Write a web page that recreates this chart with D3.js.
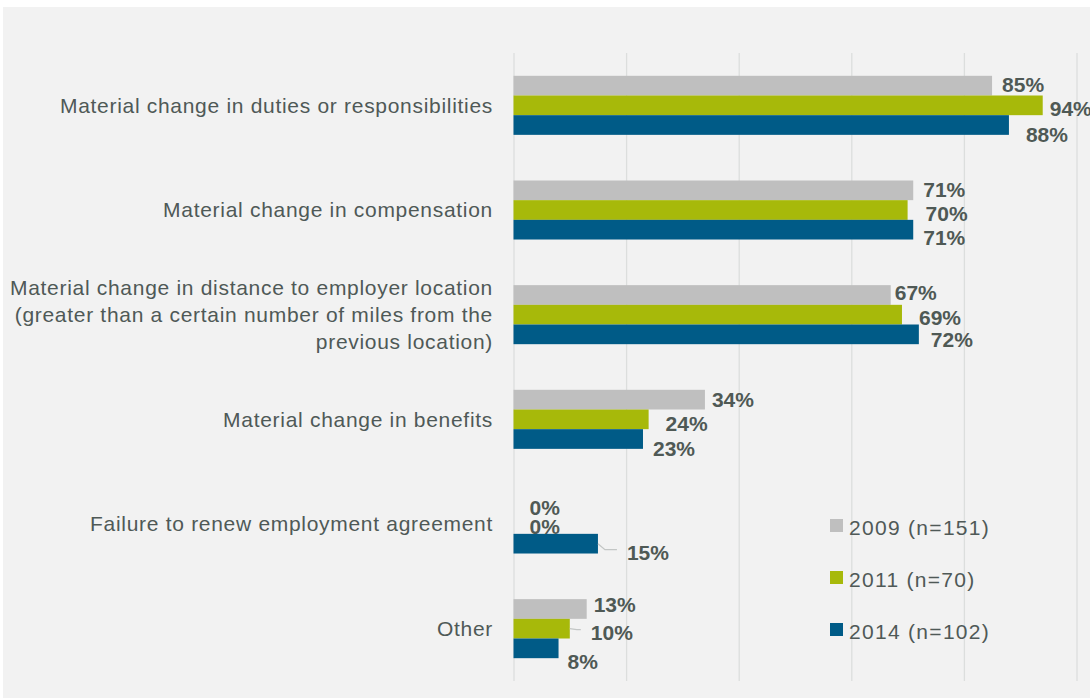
<!DOCTYPE html>
<html>
<head>
<meta charset="utf-8">
<script src="https://cdn.jsdelivr.net/npm/d3@7"></script>
<style>
  html, body { margin: 0; padding: 0; background: #ffffff; }
  svg { display: block; }
  text { font-family: "Liberation Sans", Arial, sans-serif; }
</style>
</head>
<body>
<svg id="chart" width="1090" height="698"></svg>
<script>
// Reasons treated as "good reason" triggers, by survey year (% of respondents)
const categories = [
  "Material change in duties or responsibilities",
  "Material change in compensation",
  "Material change in distance to employer location\n(greater than a certain number of miles from the\nprevious location)",
  "Material change in benefits",
  "Failure to renew employment agreement",
  "Other"
];
const seriesNames = ["2009 (n=151)", "2011 (n=70)", "2014 (n=102)"];
const values2009 = [85, 71, 67, 34, 0, 13];
const values2011 = [94, 70, 69, 24, 0, 10];
const values2014 = [88, 71, 72, 23, 15, 8];
const xTicks = [0, 20, 40, 60, 80, 100];

// Colours for the three survey years
const seriesColors = ["#bfbfbf", "#a7b90a", "#005b87"];

// Hand placement of the value labels: [dx from bar end, dy from bar centre]
const labelNudge = [
  [[10, -1], [7, 3], [17, 10]],
  [[10, -1], [18, 4], [10, 8]],
  [[4, -2], [17, 3], [12, 5]],
  [[7, 0], [17, 4], [10, 10]],
  [[16, 3], [16, 3], [29, 9]],
  [[7, -4], [21, 4], [9, 13]]
];
// Labels pulled away from their bar get a short connector
const leaderFor = [[4, 2], [5, 1]];

const seriesValues = [values2009, values2011, values2014];

const svg = d3.select("#chart");
const W = 1090, H = 698;

// Panel background
svg.append("rect").attr("x", 3).attr("y", 7).attr("width", W - 3).attr("height", H - 7)
  .attr("fill", "#f2f2f2");

const plot = { left: 513.5, right: 1076.5, top: 53, bottom: 681 };

const x = d3.scaleLinear().domain([0, 100]).range([plot.left, plot.right]);
const y = d3.scaleBand().domain(d3.range(categories.length))
  .range([plot.top, plot.bottom]).paddingInner(0.436).paddingOuter(0.218);
const ySub = d3.scaleBand().domain(d3.range(seriesNames.length)).range([0, y.bandwidth()]);

// Vertical gridlines
const grid = svg.append("g").attr("transform", `translate(0,${plot.top})`)
  .call(d3.axisTop(x).tickValues(xTicks).tickSize(-(plot.bottom - plot.top)).tickFormat(""));
grid.select(".domain").remove();
grid.selectAll(".tick line").attr("stroke", "#dcdedd").attr("stroke-width", 1.3);

// Category labels
const catG = svg.append("g");
categories.forEach((c, i) => {
  const lines = c.split("\n");
  const cy = y(i) + y.bandwidth() / 2;
  const lh = 27;
  const t = catG.append("text")
    .attr("text-anchor", "end")
    .attr("font-size", 21)
    .attr("letter-spacing", "0.7px")
    .attr("fill", "#4f5957");
  lines.forEach((ln, k) => {
    t.append("tspan")
      .attr("x", 493)
      .attr("y", cy + (k - (lines.length - 1) / 2) * lh)
      .attr("dy", "0.35em")
      .text(ln);
  });
});

// Bars
const barG = svg.append("g");
seriesValues.forEach((vals, s) => {
  barG.selectAll(null).data(vals).join("rect")
    .attr("x", x(0))
    .attr("y", (d, i) => y(i) + ySub(s))
    .attr("width", d => x(d) - x(0))
    .attr("height", ySub.bandwidth())
    .attr("fill", seriesColors[s]);
});

// Leader lines
leaderFor.forEach(([i, s]) => {
  const v = seriesValues[s][i];
  const [dx, dy] = labelNudge[i][s];
  const bx = x(v), by = y(i) + ySub(s) + ySub.bandwidth() / 2;
  const ly = by + dy - 3;
  svg.append("polyline")
    .attr("points", [[bx, by], [bx + 7, ly], [bx + dx - 10, ly]].map(p => p.join(",")).join(" "))
    .attr("fill", "none").attr("stroke", "#c3c6c5").attr("stroke-width", 1.3);
});

// Value labels
const labG = svg.append("g");
seriesValues.forEach((vals, s) => {
  labG.selectAll(null).data(vals).join("text")
    .attr("x", (d, i) => x(d) + labelNudge[i][s][0])
    .attr("y", (d, i) => y(i) + ySub(s) + ySub.bandwidth() / 2 + labelNudge[i][s][1])
    .attr("dy", "0.35em")
    .attr("font-size", 21)
    .attr("font-weight", "bold")
    .attr("fill", "#4f5955")
    .text(d => d + "%");
});

// Legend
const legG = svg.append("g").attr("transform", "translate(830,519)");
seriesNames.forEach((n, s) => {
  const g = legG.append("g").attr("transform", `translate(0,${s * 52})`);
  g.append("rect").attr("width", 13).attr("height", 13).attr("fill", seriesColors[s]);
  g.append("text").attr("x", 19).attr("y", 8.5).attr("dy", "0.35em")
    .attr("font-size", 21).attr("letter-spacing", "1.3px").attr("fill", "#4f5957")
    .text(n);
});
</script>
</body>
</html>
